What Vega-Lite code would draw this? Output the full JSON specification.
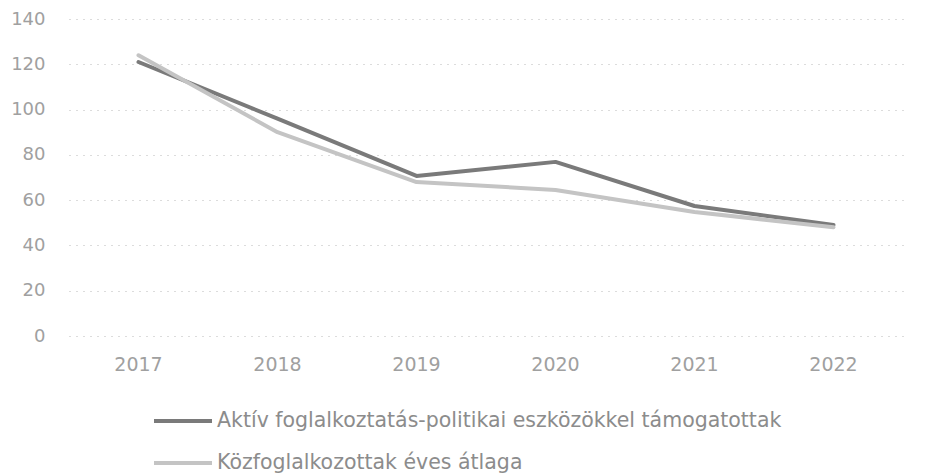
{
  "$schema": "https://vega.github.io/schema/vega-lite/v6.json",
  "width": 834,
  "height": 317,
  "autosize": {"type": "none"},
  "padding": {"left": 69, "top": 19, "right": 22, "bottom": 139},
  "background": "white",
  "config": {
    "view": {"stroke": null},
    "font": "DejaVu Sans",
    "axis": {"labelFont": "DejaVu Sans", "labelColor": "#a0a0a0", "labelFontSize": 18}
  },
  "data": {
    "values": [
      {"year": "2017", "series": "Aktív foglalkoztatás-politikai eszközökkel támogatottak", "value": 121},
      {"year": "2018", "series": "Aktív foglalkoztatás-politikai eszközökkel támogatottak", "value": 96},
      {"year": "2019", "series": "Aktív foglalkoztatás-politikai eszközökkel támogatottak", "value": 70.7},
      {"year": "2020", "series": "Aktív foglalkoztatás-politikai eszközökkel támogatottak", "value": 76.9},
      {"year": "2021", "series": "Aktív foglalkoztatás-politikai eszközökkel támogatottak", "value": 57.4},
      {"year": "2022", "series": "Aktív foglalkoztatás-politikai eszközökkel támogatottak", "value": 49},
      {"year": "2017", "series": "Közfoglalkozottak éves átlaga", "value": 124},
      {"year": "2018", "series": "Közfoglalkozottak éves átlaga", "value": 90},
      {"year": "2019", "series": "Közfoglalkozottak éves átlaga", "value": 68},
      {"year": "2020", "series": "Közfoglalkozottak éves átlaga", "value": 64.5},
      {"year": "2021", "series": "Közfoglalkozottak éves átlaga", "value": 54.8},
      {"year": "2022", "series": "Közfoglalkozottak éves átlaga", "value": 48}
    ]
  },
  "mark": {"type": "line", "strokeWidth": 4, "strokeCap": "round", "strokeJoin": "round"},
  "encoding": {
    "x": {
      "field": "year", "type": "ordinal",
      "scale": {"type": "band", "paddingInner": 0, "paddingOuter": 0},
      "axis": {"title": null, "labelAngle": 0, "ticks": false, "domain": false, "grid": false, "labelPadding": 19, "labelFontSize": 19}
    },
    "y": {
      "field": "value", "type": "quantitative",
      "scale": {"domain": [0, 140], "nice": false},
      "axis": {"title": null, "values": [0, 20, 40, 60, 80, 100, 120, 140], "ticks": false, "domain": false, "labelPadding": 24, "gridColor": "#b8b8b8", "gridDash": [1, 6], "gridWidth": 1}
    },
    "color": {
      "field": "series", "type": "nominal",
      "scale": {"range": ["#7a7a7a", "#c4c4c4"]},
      "legend": {
        "title": null, "orient": "none", "legendX": 83, "legendY": 371, "direction": "vertical",
        "symbolType": "stroke", "symbolSize": 3364, "symbolStrokeWidth": 4,
        "labelFont": "DejaVu Sans", "labelFontSize": 20.5, "labelColor": "#8c8c8c",
        "labelOffset": 3, "rowPadding": -7, "padding": 0, "labelLimit": 800
      }
    }
  }
}
